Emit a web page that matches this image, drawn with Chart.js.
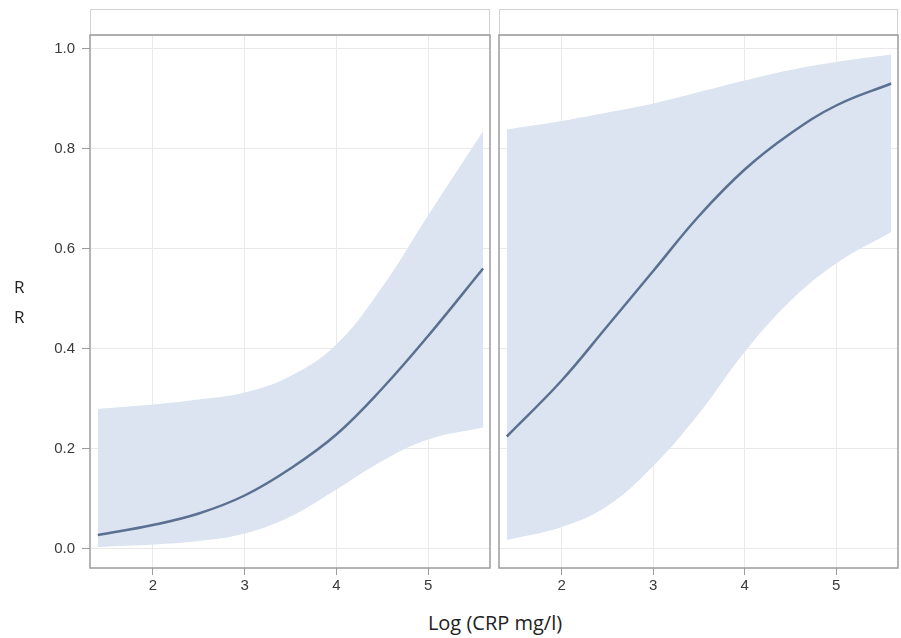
<!DOCTYPE html>
<html>
<head>
<meta charset="utf-8">
<script src="https://cdn.jsdelivr.net/npm/chart.js@4/dist/chart.umd.min.js"></script>
<style>
  html, body { margin: 0; padding: 0; background: #fff; }
  #wrap { position: relative; width: 901px; height: 638px; overflow: hidden; }
  canvas { position: absolute; top: 0; }
  #leftChart { left: 0; }
  #rightChart { left: 490px; }
  .ytitle { position: absolute; left: 14px; top: 272px; font: 17px "Open Sans", sans-serif; color: #222; line-height: 30px; }
  .xtitle { position: absolute; left: 0; width: 990px; top: 609px; text-align: center; font: 20px "Open Sans", sans-serif; color: #222; }
</style>
</head>
<body>
<div id="wrap">
  <canvas id="leftChart" width="492" height="600"></canvas>
  <canvas id="rightChart" width="410" height="600"></canvas>
  <div class="ytitle">R<br>R</div>
  <div class="xtitle">Log (CRP mg/l)</div>
</div>
<script>
const xs = [1.4, 2, 2.5, 3, 3.5, 4, 4.5, 5, 5.6];
const xTicks = [2, 3, 4, 5];
const yTicks = [0, 0.2, 0.4, 0.6, 0.8, 1.0];

// left panel
const leftFit   = [0.027, 0.047, 0.070, 0.106, 0.160, 0.228, 0.320, 0.425, 0.560];
const leftUpper = [0.279, 0.288, 0.298, 0.312, 0.345, 0.408, 0.523, 0.666, 0.835];
const leftLower = [0.003, 0.008, 0.015, 0.030, 0.064, 0.118, 0.175, 0.218, 0.242];

// right panel
const rightFit   = [0.224, 0.336, 0.445, 0.555, 0.665, 0.758, 0.830, 0.886, 0.930];
const rightUpper = [0.838, 0.855, 0.872, 0.890, 0.913, 0.936, 0.957, 0.973, 0.988];
const rightLower = [0.017, 0.043, 0.085, 0.165, 0.270, 0.393, 0.495, 0.570, 0.633];

const bandColor = '#dbe4f0';
const lineColor = '#5b7091';
const gridColor = '#e9e9e9';
const tickFont = { family: '"Liberation Sans", Arial, sans-serif', size: 15 };

function pts(ys) {
  return xs.map((x, i) => ({ x, y: ys[i] }));
}

const panelFrame = {
  id: 'panelFrame',
  afterDatasetsDraw(chart) {
    const { ctx, chartArea: a } = chart;
    ctx.save();
    // header strip above the panel
    ctx.strokeStyle = '#d2d2d2';
    ctx.lineWidth = 1;
    ctx.strokeRect(a.left + 0.5, 9.5, a.right - a.left - 1, a.top - 9.5);
    // plot box
    ctx.strokeStyle = '#9c9c9c';
    ctx.lineWidth = 1.5;
    ctx.strokeRect(a.left, a.top, a.right - a.left, a.bottom - a.top);
    ctx.restore();
  }
};

function makePanel(id, fit, upper, lower, showY) {
  new Chart(document.getElementById(id), {
    type: 'line',
    data: {
      datasets: [
        { data: pts(fit), borderColor: lineColor, borderWidth: 2.5, pointRadius: 0, fill: false, tension: 0.4, order: 0 },
        { data: pts(upper), borderWidth: 0, borderColor: 'rgba(0,0,0,0)', backgroundColor: bandColor, pointRadius: 0, fill: '+1', tension: 0.4, order: 1 },
        { data: pts(lower), borderWidth: 0, borderColor: 'rgba(0,0,0,0)', pointRadius: 0, fill: false, tension: 0.4, order: 2 }
      ]
    },
    options: {
      responsive: false,
      animation: false,
      devicePixelRatio: 1,
      layout: { padding: { top: 35, right: 2, left: showY ? 0 : 9, bottom: 0 } },
      plugins: { legend: { display: false }, tooltip: { enabled: false } },
      scales: {
        x: {
          type: 'linear', min: 1.315, max: 5.675,
          afterBuildTicks: s => { s.ticks = xTicks.map(v => ({ value: v })); },
          afterFit: s => { s.height = 32; },
          grid: { color: gridColor, tickColor: '#9c9c9c', tickLength: 7 },
          border: { display: false },
          ticks: { color: '#3a3a3a', font: tickFont, padding: 2, maxRotation: 0, callback: v => String(v) }
        },
        y: {
          min: -0.039, max: 1.027,
          afterBuildTicks: s => { s.ticks = yTicks.map(v => ({ value: v })); },
          afterFit: s => { s.width = showY ? 90 : 0; },
          grid: { color: gridColor, tickColor: '#9c9c9c', tickLength: 8, drawTicks: showY },
          border: { display: false },
          ticks: { display: showY, color: '#3a3a3a', font: tickFont, padding: 7, callback: v => v.toFixed(1) }
        }
      }
    },
    plugins: [panelFrame]
  });
}

makePanel('leftChart', leftFit, leftUpper, leftLower, true);
makePanel('rightChart', rightFit, rightUpper, rightLower, false);
</script>
</body>
</html>
